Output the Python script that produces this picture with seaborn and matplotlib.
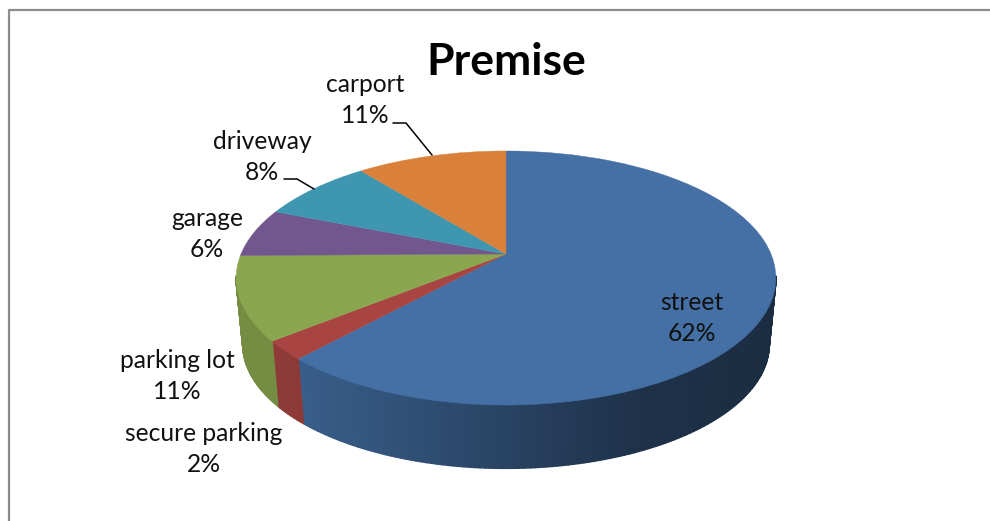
import numpy as np
import matplotlib
matplotlib.use("Agg")
import matplotlib.pyplot as plt
import seaborn as sns
from matplotlib.transforms import Transform

categories = ["street", "secure parking", "parking lot", "garage", "driveway", "carport"]
# estimated from the slice boundaries, the labels show these rounded
shares = [61.8, 2.4, 10.6, 6.2, 8.2, 10.8]
slice_colors = ["#4470a5", "#a84542", "#8aa64f", "#72578f", "#3f96b0", "#d9813a"]
title = "Premise"

# label centres in figure pixels, same order as categories
label_xy = [(692, 318), (204, 449), (177, 376), (207, 234), (262, 157), (365, 100)]

# leader lines for the two outside labels that have one
leaders = [
    ([284, 297, 314], [179, 179, 189]),
    ([393, 406, 432], [123, 123, 155]),
]


class TiltedPie(Transform):
    """Maps the unit pie onto the tilted disc, with some perspective."""
    input_dims = 2
    output_dims = 2
    is_separable = False

    def __init__(self, cx=506, cy=254, rx=265, ry=122.5, tilt=0.189, scale=1.0, drop=0.0):
        super().__init__()
        self.cx, self.cy, self.rx, self.ry = cx, cy, rx, ry
        self.tilt, self.scale, self.drop = tilt, scale, drop

    def transform_non_affine(self, values):
        values = np.asarray(values, dtype=float)
        w = 1 + self.tilt * values[:, 1]
        px = self.cx + self.scale * self.rx * values[:, 0] / w
        py = self.cy + self.drop - self.scale * self.ry * values[:, 1] / w
        return np.column_stack([px, py])


def rim(theta):
    # theta in degrees, clockwise from twelve o'clock
    rad = np.radians(theta)
    return np.column_stack([np.sin(rad), np.cos(rad)])


sns.set_theme(style="white")
plt.rcParams["font.family"] = ["Lato", "DejaVu Sans"]
palette = sns.color_palette(slice_colors)

fig = plt.figure(figsize=(9.9, 5.21), dpi=100, facecolor="white")
ax = fig.add_axes([0, 0, 1, 1])

top_face = TiltedPie()
bottom_face = TiltedPie(scale=0.975, drop=67)

wedges, _ = ax.pie(shares, colors=palette, startangle=90, counterclock=False, radius=1)
for wedge in wedges:
    wedge.set_transform(top_face + ax.transData)
    wedge.set_edgecolor(wedge.get_facecolor())
    wedge.set_linewidth(0.3)
    wedge.set_zorder(3)

ax.set_aspect("auto")
ax.set_xlim(0, 990)
ax.set_ylim(521, 0)

# side wall, darker towards the right
edges = np.cumsum([0] + shares) / sum(shares) * 360
for i, color in enumerate(palette):
    start, stop = max(edges[i], 100), min(edges[i + 1], 260)
    if stop <= start:
        continue
    steps = np.linspace(start, stop, int(stop - start) + 2)
    upper = top_face.transform(rim(steps))
    lower = bottom_face.transform(rim(steps))
    for j in range(len(steps) - 1):
        quad = np.vstack([upper[j:j + 2], lower[j:j + 2][::-1]])
        shade = np.interp(quad[:, 0].mean(), [240, 300, 420, 520, 640, 776],
                          [0.85, 0.84, 0.70, 0.58, 0.44, 0.40])
        tone = tuple(np.array(color) * shade)
        ax.fill(quad[:, 0], quad[:, 1], color=tone, lw=1.2, joinstyle="round", zorder=2)

for xs, ys in leaders:
    ax.plot(xs, ys, color="black", lw=1.1, zorder=4)

for name, share, (x, y) in zip(categories, shares, label_xy):
    ax.text(x, y, f"{name}\n{share:.0f}%", ha="center", va="center", fontsize=17.7,
            color="#111111", linespacing=1.45, zorder=5)

ax.text(506, 62, title, ha="center", va="center", fontsize=32, fontweight="bold",
        color="black", zorder=5)

# chart area border, only left and top are in the crop
ax.plot([9, 9, 990], [521, 9.7, 9.7], color="#8c8c8c", lw=1.6, zorder=1, clip_on=False)

fig.savefig("out.png", dpi=100, facecolor="white")
plt.close(fig)
